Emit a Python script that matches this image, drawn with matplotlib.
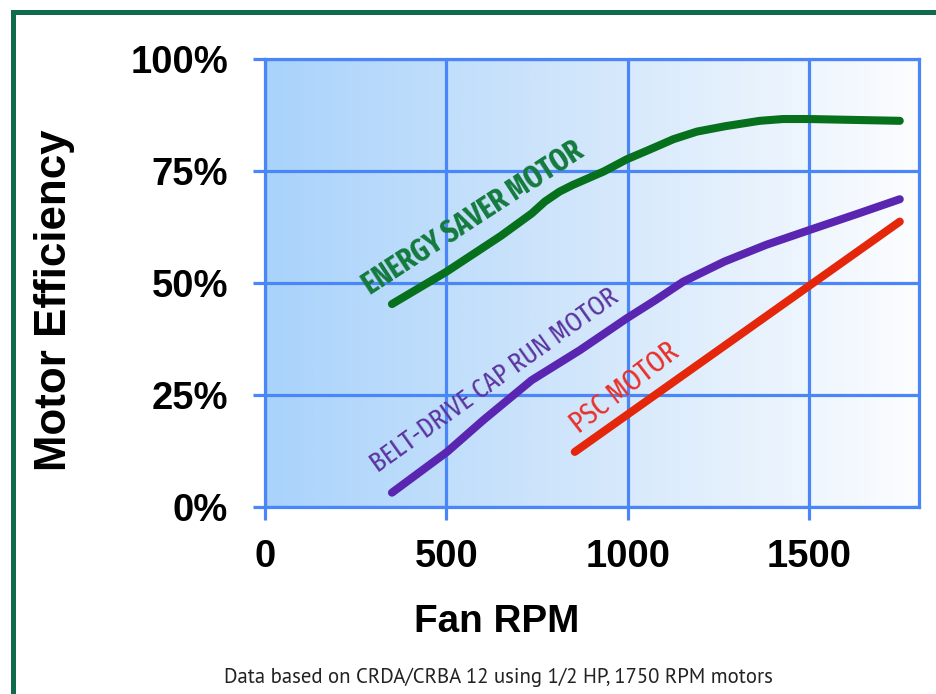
import numpy as np
import matplotlib
matplotlib.use("Agg")
import matplotlib.pyplot as plt
from matplotlib.colors import LinearSegmentedColormap
from matplotlib.patches import Rectangle

# Data (Fan RPM vs motor efficiency %)
energy_rpm = [350, 500, 650, 735, 772, 812, 849, 934, 997, 1058, 1126, 1191, 1269, 1364, 1428, 1500, 1750]
energy_eff = [45.3, 52.5, 60.5, 65.5, 68.2, 70.4, 71.9, 74.9, 77.6, 79.7, 82.1, 83.8, 85.0, 86.2, 86.6, 86.6, 86.2]

belt_rpm = [350, 502, 602, 735, 868, 997, 1077, 1153, 1267, 1381, 1500, 1628, 1750]
belt_eff = [3.2, 12.3, 19.4, 28.3, 35.0, 42.1, 46.2, 50.3, 54.8, 58.5, 61.8, 65.3, 68.7]

psc_rpm = [854, 1750]
psc_eff = [12.3, 63.7]

x_ticks = [0, 500, 1000, 1500]
y_ticks = [0, 25, 50, 75, 100]
y_labels = ["0%", "25%", "50%", "75%", "100%"]

GRID = "#4a86f7"
COND = ["Fira Sans Extra Condensed", "Fira Sans Condensed", "Roboto Condensed", "DejaVu Sans"]
BOLD = "Liberation Sans"

fig = plt.figure(figsize=(9.37, 6.94), dpi=100)
renderer = fig.canvas.get_renderer()


def fit_text(t, target_px):
    # scale the font so the unrotated text is target_px wide
    rot = t.get_rotation()
    t.set_rotation(0)
    w = t.get_window_extent(renderer).width
    t.set_fontsize(t.get_fontsize() * target_px / w)
    t.set_rotation(rot)


# green frame around the chart
fig.patches.append(Rectangle((12.5 / 937, -0.05), 1.2, 1 - 12 / 694 + 0.05,
                             transform=fig.transFigure, fill=False,
                             edgecolor="#0f6b4b", linewidth=3.6))

ax = fig.add_axes([265 / 937, 1 - 507 / 694, (919 - 265) / 937, (507 - 59) / 694])
xmax = 1803
ax.set_xlim(0, xmax)
ax.set_ylim(0, 100)

# horizontal gradient background
cmap = LinearSegmentedColormap.from_list("bg", ["#a9d3fb", "#d3e7fb", "#fcfdff"])
grad = np.linspace(0, 1, 256).reshape(1, -1)
ax.imshow(grad, extent=[0, xmax, 0, 100], aspect="auto", cmap=cmap, zorder=0)

ax.set_xticks(x_ticks)
ax.set_yticks(y_ticks)
ax.set_yticklabels(y_labels)
ax.grid(True, color=GRID, linewidth=2.3, zorder=1)
ax.set_axisbelow(True)
for s in ax.spines.values():
    s.set_color(GRID)
    s.set_linewidth(2.3)
ax.tick_params(axis="both", colors=GRID, length=9, width=2.3, direction="out",
               labelcolor="black", labelsize=27.5)
ax.tick_params(axis="x", pad=14)
ax.tick_params(axis="y", pad=17.5)
for lbl in ax.get_xticklabels() + ax.get_yticklabels():
    lbl.set_fontweight("bold")
    lbl.set_family(BOLD)

lw = 5.8
kw = dict(linewidth=lw, solid_capstyle="round", solid_joinstyle="round", zorder=3)
ax.plot(energy_rpm, energy_eff, color="#06701c", **kw)
ax.plot(belt_rpm, belt_eff, color="#5a25b0", **kw)
ax.plot(psc_rpm, psc_eff, color="#e4260a", **kw)

t1 = ax.text(575, 64.4, "ENERGY SAVER MOTOR", rotation=33, color="#137a3c", fontsize=18,
             fontweight="bold", family=COND, ha="center", va="center", zorder=4,
             rotation_mode="anchor")
fit_text(t1, 256)
t2 = ax.text(634, 28.3, "BELT-DRIVE CAP RUN MOTOR", rotation=35.5, color="#5b35a0", fontsize=17,
             family=COND, ha="center", va="center", zorder=4, rotation_mode="anchor")
fit_text(t2, 296)
t3 = ax.text(991, 26.5, "PSC MOTOR", rotation=37.8, color="#e8302a", fontsize=17,
             family=COND, ha="center", va="center", zorder=4, rotation_mode="anchor")
fit_text(t3, 128)

xl = fig.text(497 / 937, 1 - 622 / 694, "Fan RPM", ha="center", va="center",
              fontsize=28, fontweight="bold", family=BOLD)
fit_text(xl, 165)
yl = fig.text(55 / 937, 1 - 300 / 694, "Motor Efficiency", ha="center", va="center",
              rotation=90, fontsize=31, fontweight="bold", family=BOLD)
fit_text(yl, 340)

note = fig.text(498 / 937, 1 - 677 / 694,
                "Data based on CRDA/CRBA 12 using 1/2 HP, 1750 RPM motors",
                ha="center", va="center", fontsize=13, color="#222222",
                family=["PT Sans", "Source Sans 3", "Open Sans"])
fit_text(note, 547)

fig.savefig("out.png", dpi=100)
